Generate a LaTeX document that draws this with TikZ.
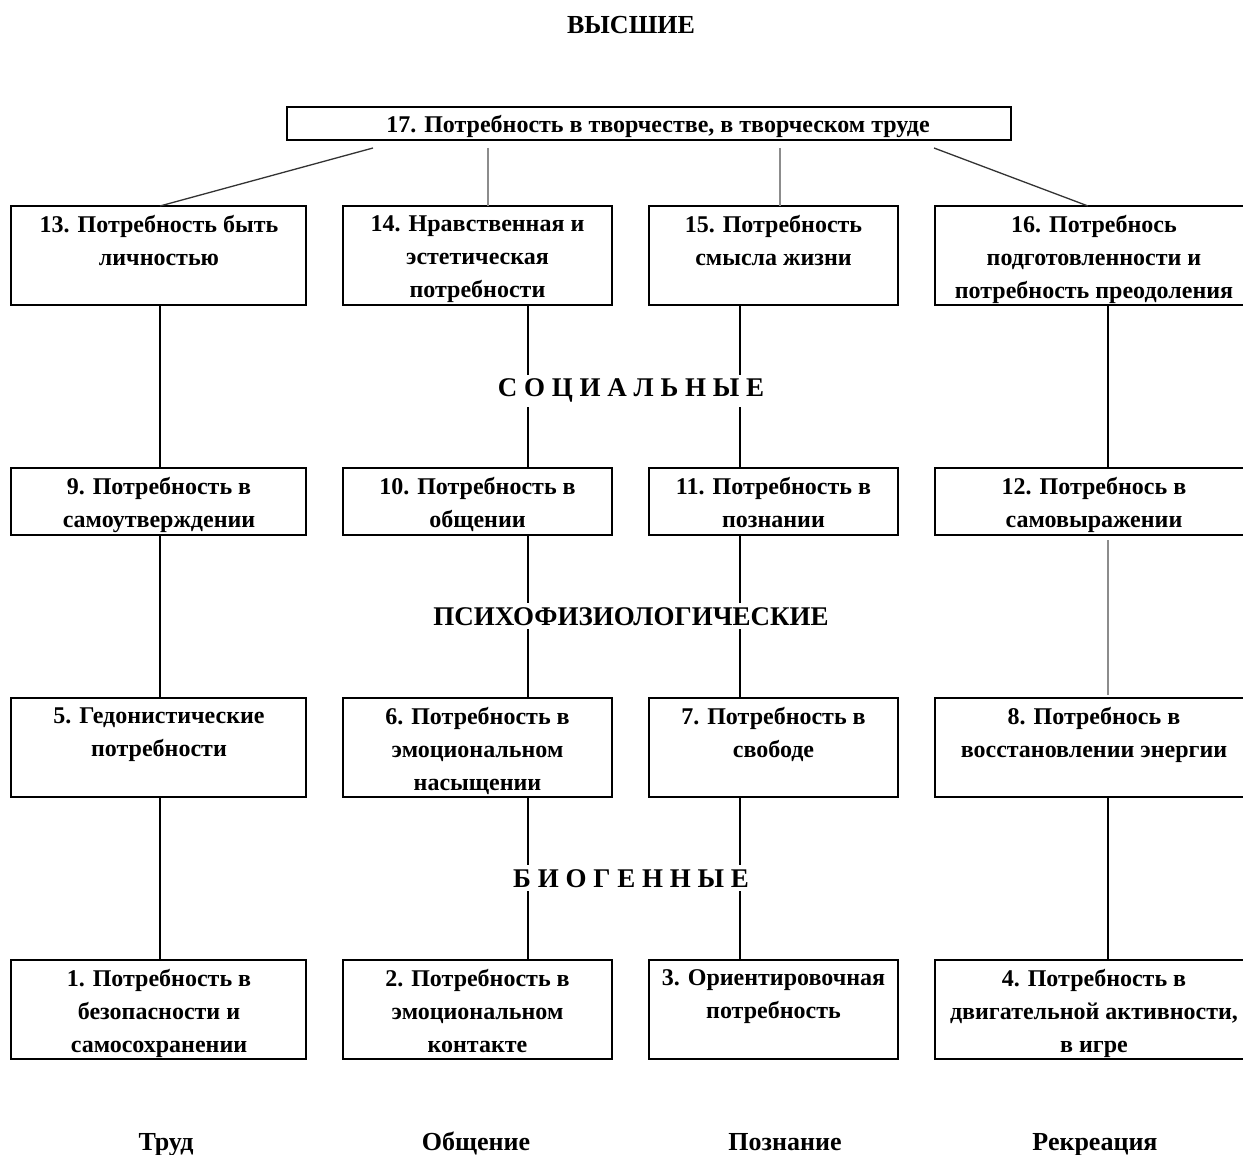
\documentclass[tikz,border=0pt]{standalone}
\usepackage{fontspec}
\setmainfont{Liberation Serif}
\begin{document}
\begin{tikzpicture}[x=1pt,y=-1pt,
  box/.style={draw=black, line width=1.3pt, inner sep=0pt, outer sep=0pt},
  txt/.style={font=\bfseries\fontsize{24}{33}\selectfont, align=center, inner sep=0pt, anchor=north},
  conn/.style={line width=2pt, black},
  gconn/.style={line width=1.8pt, black!45},
  diag/.style={line width=1.3pt, black!80},
  cat/.style={font=\bfseries\fontsize{27}{30}\selectfont, fill=white, inner sep=4pt, anchor=base},
  foot/.style={font=\bfseries\fontsize{26}{30}\selectfont, inner sep=0pt, anchor=base}]
\useasboundingbox (0,0) rectangle (1243,1155);
\clip (0,0) rectangle (1243,1155);

% columns for connectors
\coordinate (x1) at (160,0);
\coordinate (x2) at (528,0);
\coordinate (x3) at (740,0);
\coordinate (x4) at (1108,0);

% top box
\node[box, minimum width=724pt, minimum height=33pt] (b17) at (649,123.5) {};
\node[font=\bfseries\fontsize{24}{33}\selectfont, inner sep=0pt, anchor=base] (t17) at (658,132.5) {17. Потребность в творчестве, в творческом труде};

% row 1
\node[box, minimum width=295pt, minimum height=99pt] (b13) at (158.5,255.5) {};
\node[box, minimum width=269pt, minimum height=99pt] (b14) at (477.5,255.5) {};
\node[box, minimum width=249pt, minimum height=99pt] (b15) at (773.5,255.5) {};
\node[box, minimum width=318pt, minimum height=99pt] (b16) at (1094,255.5) {};
\node[txt] (t13) at (159,215.5) {13. Потребность быть\\личностью};
\node[txt] (t14) at (477.5,215.5) {14. Нравственная и\\эстетическая\\потребности};
\node[txt] (t15) at (773.5,215.5) {15. Потребность\\смысла жизни};
\node[txt] (t16) at (1094,215.5) {16. Потребнось\\подготовленности и\\потребность преодоления};

% row 2
\node[box, minimum width=295pt, minimum height=67pt] (b9) at (158.5,501.5) {};
\node[box, minimum width=269pt, minimum height=67pt] (b10) at (477.5,501.5) {};
\node[box, minimum width=249pt, minimum height=67pt] (b11) at (773.5,501.5) {};
\node[box, minimum width=318pt, minimum height=67pt] (b12) at (1094,501.5) {};
\node[txt] (t9) at (159,477.5) {9. Потребность в\\самоутверждении};
\node[txt] (t10) at (477.5,477.5) {10. Потребность в\\общении};
\node[txt] (t11) at (773.5,477.5) {11. Потребность в\\познании};
\node[txt] (t12) at (1094,477.5) {12. Потребнось в\\самовыражении};

% row 3
\node[box, minimum width=295pt, minimum height=99pt] (b5) at (158.5,747.5) {};
\node[box, minimum width=269pt, minimum height=99pt] (b6) at (477.5,747.5) {};
\node[box, minimum width=249pt, minimum height=99pt] (b7) at (773.5,747.5) {};
\node[box, minimum width=318pt, minimum height=99pt] (b8) at (1094,747.5) {};
\node[txt] (t5) at (159,707.5) {5. Гедонистические\\потребности};
\node[txt] (t6) at (477.5,707.5) {6. Потребность в\\эмоциональном\\насыщении};
\node[txt] (t7) at (773.5,707.5) {7. Потребность в\\свободе};
\node[txt] (t8) at (1094,707.5) {8. Потребнось в\\восстановлении энергии};

% row 4
\node[box, minimum width=295pt, minimum height=99pt] (b1) at (158.5,1009.5) {};
\node[box, minimum width=269pt, minimum height=99pt] (b2) at (477.5,1009.5) {};
\node[box, minimum width=249pt, minimum height=99pt] (b3) at (773.5,1009.5) {};
\node[box, minimum width=318pt, minimum height=99pt] (b4) at (1094,1009.5) {};
\node[txt] (t1) at (159,969.5) {1. Потребность в\\безопасности и\\самосохранении};
\node[txt] (t2) at (477.5,969.5) {2. Потребность в\\эмоциональном\\контакте};
\node[txt] (t3) at (773.5,969.5) {3. Ориентировочная\\потребность};
\node[txt] (t4) at (1094,969.5) {4. Потребность в\\двигательной активности,\\в игре};

% connectors from top box
\coordinate (s1) at (373,148);
\coordinate (s2) at (488,148);
\coordinate (s3) at (780,148);
\coordinate (s4) at (934,148);
\coordinate (e4) at (1088,0);
\draw[diag] (s1) -- (b13.north -| x1);
\draw[gconn, line width=1.5pt] (s2) -- (b14.north -| s2);
\draw[gconn, line width=1.5pt] (s3) -- (b15.north -| s3);
\draw[diag] (s4) -- (b16.north -| e4);

% vertical connectors
\draw[conn] (b13.south -| x1) -- (b9.north -| x1);
\draw[conn] (b14.south -| x2) -- (b10.north -| x2);
\draw[conn] (b15.south -| x3) -- (b11.north -| x3);
\draw[conn] (b16.south -| x4) -- (b12.north -| x4);

\draw[conn] (b9.south -| x1) -- (b5.north -| x1);
\draw[conn] (b10.south -| x2) -- (b6.north -| x2);
\draw[conn] (b11.south -| x3) -- (b7.north -| x3);
\draw[gconn, shorten <=5pt, shorten >=3pt] (b12.south -| x4) -- (b8.north -| x4);

\draw[conn] (b5.south -| x1) -- (b1.north -| x1);
\draw[conn] (b6.south -| x2) -- (b2.north -| x2);
\draw[conn] (b7.south -| x3) -- (b3.north -| x3);
\draw[conn] (b8.south -| x4) -- (b4.north -| x4);

% category labels
\node[font=\bfseries\fontsize{26}{30}\selectfont, inner sep=0pt, anchor=base] (high) at (631,34) {ВЫСШИЕ};
\node[cat] (soc) at (631,397) {С О Ц И А Л Ь Н Ы Е};
\node[cat] (psy) at (631,625) {ПСИХОФИЗИОЛОГИЧЕСКИЕ};
\node[cat] (bio) at (631,887) {Б И О Г Е Н Н Ы Е};

% bottom labels
\node[foot] (f1) at (166,1150) {Труд};
\node[foot] (f2) at (476,1150) {Общение};
\node[foot] (f3) at (785,1150) {Познание};
\node[foot] (f4) at (1095,1150) {Рекреация};
\end{tikzpicture}
\end{document}
